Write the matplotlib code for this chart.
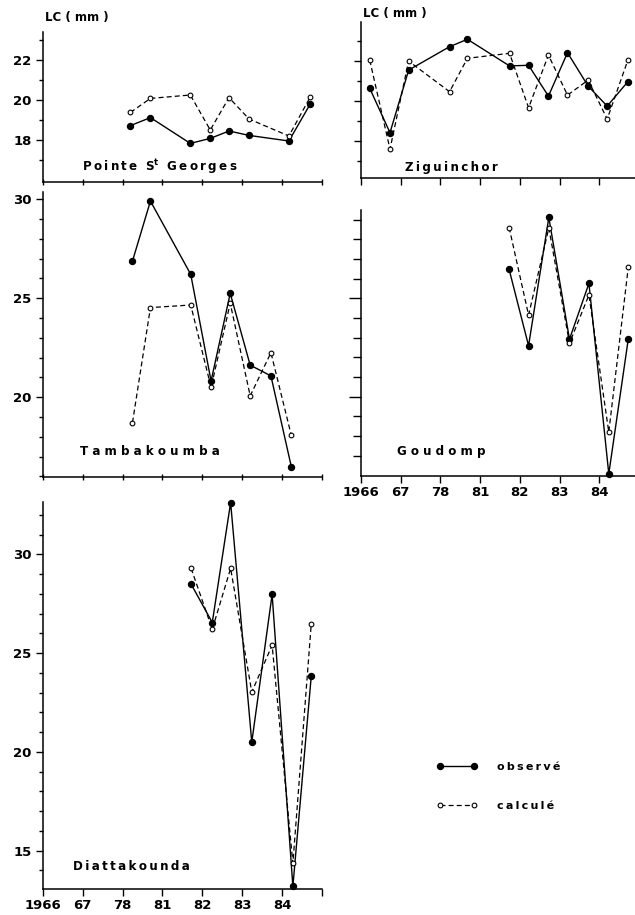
import matplotlib
matplotlib.use('Agg')
import matplotlib.pyplot as plt
from matplotlib.ticker import FixedLocator

# x positions are in year-slot units (0 = 1966, 1 = 67, 2 = 78, 3 = 81, ...)
year_labels = ['1966', '67', '78', '81', '82', '83', '84', '']

# Pointe St Georges
psg_x = [2.2, 2.7, 3.7, 4.2, 4.67, 5.17, 6.17, 6.7]
psg_obs = [18.72, 19.12, 17.83, 18.08, 18.45, 18.23, 17.95, 19.78]
psg_calc = [19.38, 20.08, 20.25, 18.5, 20.12, 19.05, 18.2, 20.13]

# Ziguinchor
zig_x = [0.22, 0.73, 1.2, 2.23, 2.68, 3.74, 4.22, 4.72, 5.2, 5.72, 6.2, 6.72]
zig_obs = [20.62, 18.4, 21.53, 22.7, 23.07, 21.74, 21.77, 20.23, 22.4, 20.73, 19.73, 20.95]
zig_calc = [22.03, 17.58, 21.98, 20.45, 22.12, 22.37, 19.65, 22.28, 20.28, 21.03, 19.08, 22.03]

# Tambakoumba
tam_x = [2.25, 2.7, 3.71, 4.22, 4.7, 5.2, 5.72, 6.23]
tam_obs = [26.88, 29.91, 26.21, 20.82, 25.25, 21.62, 21.08, 16.5]
tam_calc = [18.72, 24.53, 24.66, 20.5, 24.75, 20.07, 22.25, 18.08]

# Goudomp
gou_x = [3.73, 4.22, 4.73, 5.25, 5.74, 6.24, 6.73]
gou_obs = [26.47, 22.59, 29.11, 22.92, 25.76, 16.08, 22.92]
gou_calc = [28.6, 24.15, 28.58, 22.72, 25.17, 18.2, 26.57]

# Diattakounda
dia_x = [3.72, 4.25, 4.71, 5.24, 5.75, 6.27, 6.73]
dia_obs = [28.49, 26.55, 32.62, 20.49, 27.97, 13.19, 23.82]
dia_calc = [29.29, 26.21, 29.29, 23.03, 25.4, 14.36, 26.46]

W, H = 635, 915
plt.rcParams['font.family'] = 'DejaVu Sans'
plt.rcParams['font.weight'] = 'bold'
fig = plt.figure(figsize=(W / 100, H / 100), dpi=100)


def px_axes(x0, y0, x1, y1):
    return fig.add_axes([x0 / W, 1 - y1 / H, (x1 - x0) / W, (y1 - y0) / H])


def spaced(s, sep='\u2009'):
    return sep.join(s)


def style(ax, xlim, ylim, major, minor, show_ylabels, show_xlabels, xdir):
    ax.set_xlim(*xlim)
    ax.set_ylim(*ylim)
    for side in ['top', 'right']:
        ax.spines[side].set_visible(False)
    for side in ['left', 'bottom']:
        ax.spines[side].set_linewidth(1.1)
    ax.set_facecolor('none')
    ax.xaxis.set_major_locator(FixedLocator(range(8)))
    ax.set_xticklabels(year_labels if show_xlabels else [''] * 8)
    ax.yaxis.set_major_locator(FixedLocator(major))
    ax.yaxis.set_minor_locator(FixedLocator(minor))
    if not show_ylabels:
        ax.set_yticklabels([''] * len(major))
    ax.tick_params(axis='x', direction=xdir, length=5, width=1.0, labelsize=9.5, pad=2)
    ax.tick_params(axis='y', which='major', direction='out', length=5, width=1.0,
                   labelsize=9.5, pad=3)
    ax.tick_params(axis='y', which='minor', direction='out', length=3, width=1.0)


def draw(ax, x, obs, calc):
    h_obs, = ax.plot(x, obs, color='black', lw=1.0, marker='o', ms=4.3,
                     mfc='black', mec='black', zorder=3, clip_on=False)
    h_calc, = ax.plot(x, calc, color='black', lw=0.9, ls=(0, (4, 2.5)),
                      marker='o', ms=3.4, mfc='white', mec='black', mew=0.8,
                      zorder=4, clip_on=False)
    return h_obs, h_calc


# Pointe St Georges
ax1 = px_axes(42.7, 32, 322, 182)
draw(ax1, psg_x, psg_obs, psg_calc)
style(ax1, (0, 7), (15.9, 23.4), [18, 20, 22], [17, 19, 21, 23], True, False, 'inout')

# Ziguinchor
ax3 = px_axes(361, 22, 635, 178)
draw(ax3, zig_x, zig_obs, zig_calc)
style(ax3, (0, 6.9), (16.135, 23.935), [18, 20, 22], [17, 19, 21, 23], False, False, 'out')

# Tambakoumba
ax2 = px_axes(42.7, 192, 322, 477)
draw(ax2, tam_x, tam_obs, tam_calc)
style(ax2, (0, 7), (15.97, 30.37), [20, 25, 30],
      [16, 17, 18, 19, 21, 22, 23, 24, 26, 27, 28, 29], True, False, 'inout')

# Goudomp
ax4 = px_axes(361, 210, 635, 476)
draw(ax4, gou_x, gou_obs, gou_calc)
style(ax4, (0, 6.9), (15.97, 29.49), [20, 25],
      [17, 18, 19, 21, 22, 23, 24, 26, 27, 28, 29], False, True, 'out')
ax4.tick_params(axis='y', which='major', length=9)
ax4.tick_params(axis='y', which='minor', length=6)

# Diattakounda
ax5 = px_axes(42.7, 502, 322, 889)
h_obs, h_calc = draw(ax5, dia_x, dia_obs, dia_calc)
style(ax5, (0, 7), (13.06, 32.65), [15, 20, 25, 30],
      [14, 16, 17, 18, 19, 21, 22, 23, 24, 26, 27, 28, 29, 31, 32], True, True, 'out')

# axis unit labels
fig.text(45 / W, 1 - 17 / H, 'LC ( mm )', fontsize=8.5, fontweight='bold', va='center')
fig.text(363 / W, 1 - 13 / H, 'LC ( mm )', fontsize=8.5, fontweight='bold', va='center')

# station names
fig.text(82 / W, 1 - 167 / H, spaced('Pointe') + '  S$^{\\mathrm{t}}$  ' + spaced('Georges'),
         fontsize=8.6, fontweight='bold', va='center')
fig.text(405 / W, 1 - 168 / H, spaced('Ziguinchor'), fontsize=8.6, fontweight='bold', va='center')
fig.text(80 / W, 1 - 452 / H, spaced('Tambakoumba', ' '), fontsize=8.6, fontweight='bold',
         va='center')
fig.text(397 / W, 1 - 452 / H, spaced('Goudomp', ' '), fontsize=8.6, fontweight='bold',
         va='center')
fig.text(73 / W, 1 - 866 / H, spaced('Diattakounda'), fontsize=8.6, fontweight='bold',
         va='center')

fig.legend([h_obs, h_calc], [spaced('observé'), spaced('calculé')], numpoints=2,
           loc='upper left', bbox_to_anchor=(437 / W, 1 - 762 / H), frameon=False,
           handlelength=3.6, handletextpad=1.8, labelspacing=2.6, borderpad=0,
           borderaxespad=0, prop=dict(size=8, weight='bold'))

fig.savefig('out.png', dpi=100)
